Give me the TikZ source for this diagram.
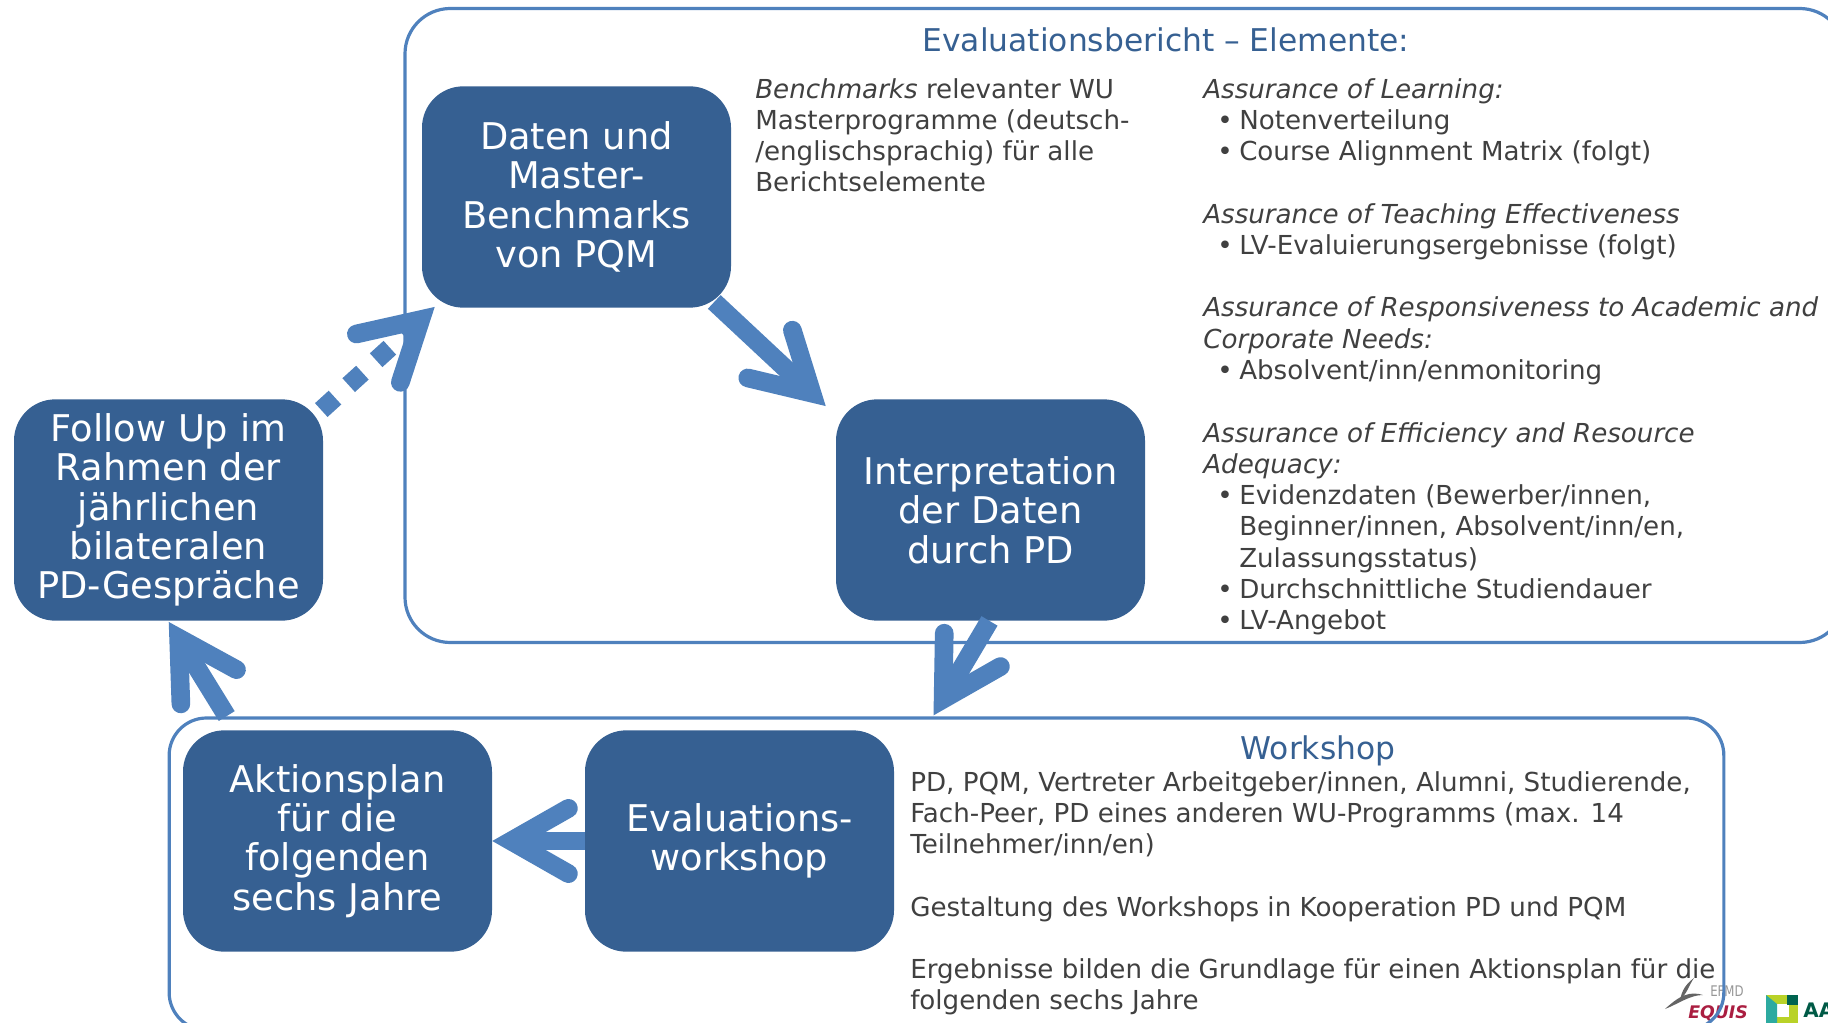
\documentclass[tikz,border=0pt]{standalone}
\usepackage{amsmath,amssymb}
\usepackage{xcolor}
\usepackage{graphicx}
\usepackage{fontspec}
\setmainfont{DejaVu Sans}
\usepackage{tikz}
\usetikzlibrary{arrows.meta,positioning,calc}

\newcommand{\listpt}[1]{\hspace*{10.5pt}\makebox[16.5pt][l]{•}#1}
\newcommand{\listcont}[1]{\hspace*{27pt}#1}

\tikzset{
	stagebox/.style={fill={rgb, 255:red, 54; green, 96; blue, 146 },rounded corners=31pt,minimum width=231.75pt,minimum height=166pt,align=center,text=white,inner sep=0pt,font=\fontsize{27.6}{29.5}\selectfont},
	framebox/.style={draw={rgb, 255:red, 79; green, 129; blue, 189 },line width=2.4pt,inner sep=0pt},
	flowarrow/.style={draw={rgb, 255:red, 79; green, 129; blue, 189 },line width=14pt,-{Straight Barb[length=43pt,width=49pt,line cap=round,line join=miter]}},
	bodytext/.style={anchor=north west,align=left,inner sep=0pt,text={rgb, 255:red, 64; green, 64; blue, 64 },font=\fontsize{19.6}{23.45}\selectfont},
	headtext/.style={text={rgb, 255:red, 54; green, 96; blue, 146 },inner sep=0pt,font=\fontsize{23.5}{28}\selectfont}
}

\begin{document}
\begin{tikzpicture}[x=0.75pt,y=0.75pt,yscale=-1,xscale=1]
	\clip (0,0) rectangle (1828,1023);

	% Logos
	\fill [color={rgb, 255:red, 100; green, 100; blue, 100 }] (1694,978) .. controls (1689,985) and (1688,992) .. (1680,1000) .. controls (1682,990) and (1686,984) .. (1694,978) -- cycle ;
	\fill [color={rgb, 255:red, 100; green, 100; blue, 100 }] (1665,1009) .. controls (1680,995) and (1690,991) .. (1703,995) .. controls (1690,995) and (1680,1003) .. (1665,1009) -- cycle ;
	\draw (1710,986) node [anchor=north west,inner sep=0pt,text={rgb, 255:red, 150; green, 150; blue, 150 },font=\fontsize{11}{12}\selectfont] (efmd) {\scalebox{0.8}[1]{EFMD}};
	\draw (1688,1005) node [anchor=north west,inner sep=0pt,text={rgb, 255:red, 170; green, 30; blue, 65 },font=\fontsize{13}{14}\bfseries\itshape\selectfont] (equis) {EQUIS};
	\fill [color={rgb, 255:red, 185; green, 210; blue, 40 }] (1766,995) rectangle (1798,1023);
	\fill [color={rgb, 255:red, 255; green, 255; blue, 255 }] (1775,1004) rectangle (1789,1017);
	\fill [color={rgb, 255:red, 45; green, 170; blue, 160 }] (1766,995) -- (1777,1004) -- (1777,1023) -- (1766,1023) -- cycle ;
	\fill [color={rgb, 255:red, 0; green, 100; blue, 80 }] (1787,995) rectangle (1798,1005);
	\draw (1803,1003) node [anchor=north west,inner sep=0pt,text={rgb, 255:red, 0; green, 90; blue, 70 },font=\fontsize{15}{16}\bfseries\selectfont] (aacsb) {AA};

	% Text Node
	\draw (1166,40) node [headtext] (reporthead) {Evaluationsbericht – Elemente:};
	% Text Node
	\draw (1318,751) node [headtext] (workshophead) {Workshop};
	% Text Node
	\draw (755,78) node [bodytext] (benchtext) {\textit{Benchmarks} relevanter WU\\Masterprogramme (deutsch-\\/englischsprachig) für alle\\Berichtselemente};
	% Text Node
	\draw (1203,78) node [bodytext] (elementtext) {\textit{Assurance of Learning:}\\
		\listpt{Notenverteilung}\\
		\listpt{Course Alignment Matrix (folgt)}\\[23.45pt]
		\textit{Assurance of Teaching Effectiveness}\\
		\listpt{LV-Evaluierungsergebnisse (folgt)}\\[23.45pt]
		\textit{Assurance of Responsiveness to Academic and}\\
		\textit{Corporate Needs:}\\
		\listpt{Absolvent/inn/enmonitoring}\\[23.45pt]
		\textit{Assurance of Efficiency and Resource}\\
		\textit{Adequacy:}\\
		\listpt{Evidenzdaten (Bewerber/innen,}\\
		\listcont{Beginner/innen, Absolvent/inn/en,}\\
		\listcont{Zulassungsstatus)}\\
		\listpt{Durchschnittliche Studiendauer}\\
		\listpt{LV-Angebot}};
	% Text Node
	\draw (910,771) node [bodytext] (workshoptext) {PD, PQM, Vertreter Arbeitgeber/innen, Alumni, Studierende,\\
		Fach-Peer, PD eines anderen WU-Programms (max. 14\\
		Teilnehmer/inn/en)\\[23.45pt]
		Gestaltung des Workshops in Kooperation PD und PQM\\[23.45pt]
		Ergebnisse bilden die Grundlage für einen Aktionsplan für die\\
		folgenden sechs Jahre};

	%Shape: Rounded Rectangle
	\draw (1125,325.5) node [framebox,rounded corners=34pt,minimum width=1080pt,minimum height=475.5pt] (reportframe) {};
	%Shape: Rounded Rectangle
	\draw (946.5,874) node [framebox,rounded corners=28pt,minimum width=1166pt,minimum height=234pt] (workshopframe) {};

	%Shape: Rounded Rectangle
	\draw (576.5,197) node [stagebox] (pqm) {Daten und\\Master-\\Benchmarks\\von PQM};
	%Shape: Rounded Rectangle
	\draw (990.5,510) node [stagebox] (interpretation) {Interpretation\\der Daten\\durch PD};
	%Shape: Rounded Rectangle
	\draw (168.5,510) node [stagebox] (followup) {Follow Up im\\Rahmen der\\jährlichen\\bilateralen\\PD-Gespräche};
	%Shape: Rounded Rectangle
	\draw (337.5,841) node [stagebox] (aktionsplan) {Aktionsplan\\für die\\folgenden\\sechs Jahre};
	%Shape: Rounded Rectangle
	\draw (739.5,841) node [stagebox] (workshop) {Evaluations-\\workshop};

	%Straight Lines
	\draw [flowarrow] ([shift={(-17,-6)}]pqm.south east) -- ([shift={(-10,7)}]interpretation.north west) ;
	%Straight Lines
	\draw [flowarrow] ([shift={(-1,0)}]interpretation.south) -- ([shift={(-57,-1)}]interpretation.south |- workshopframe.north) ;
	%Straight Lines
	\draw [flowarrow] (workshop.west) -- (aktionsplan.east) ;
	%Straight Lines
	\draw [flowarrow] ([shift={(44,-14)}]aktionsplan.north west) -- ([shift={(-14,1)}]followup.south -| aktionsplan.north west) ;
	%Straight Lines
	\draw [flowarrow,dash pattern={on 13.9pt off 13.9pt}] ([shift={(-2,11)}]followup.north east) -- ([shift={(13,-1)}]pqm.south west) ;
\end{tikzpicture}
\end{document}
